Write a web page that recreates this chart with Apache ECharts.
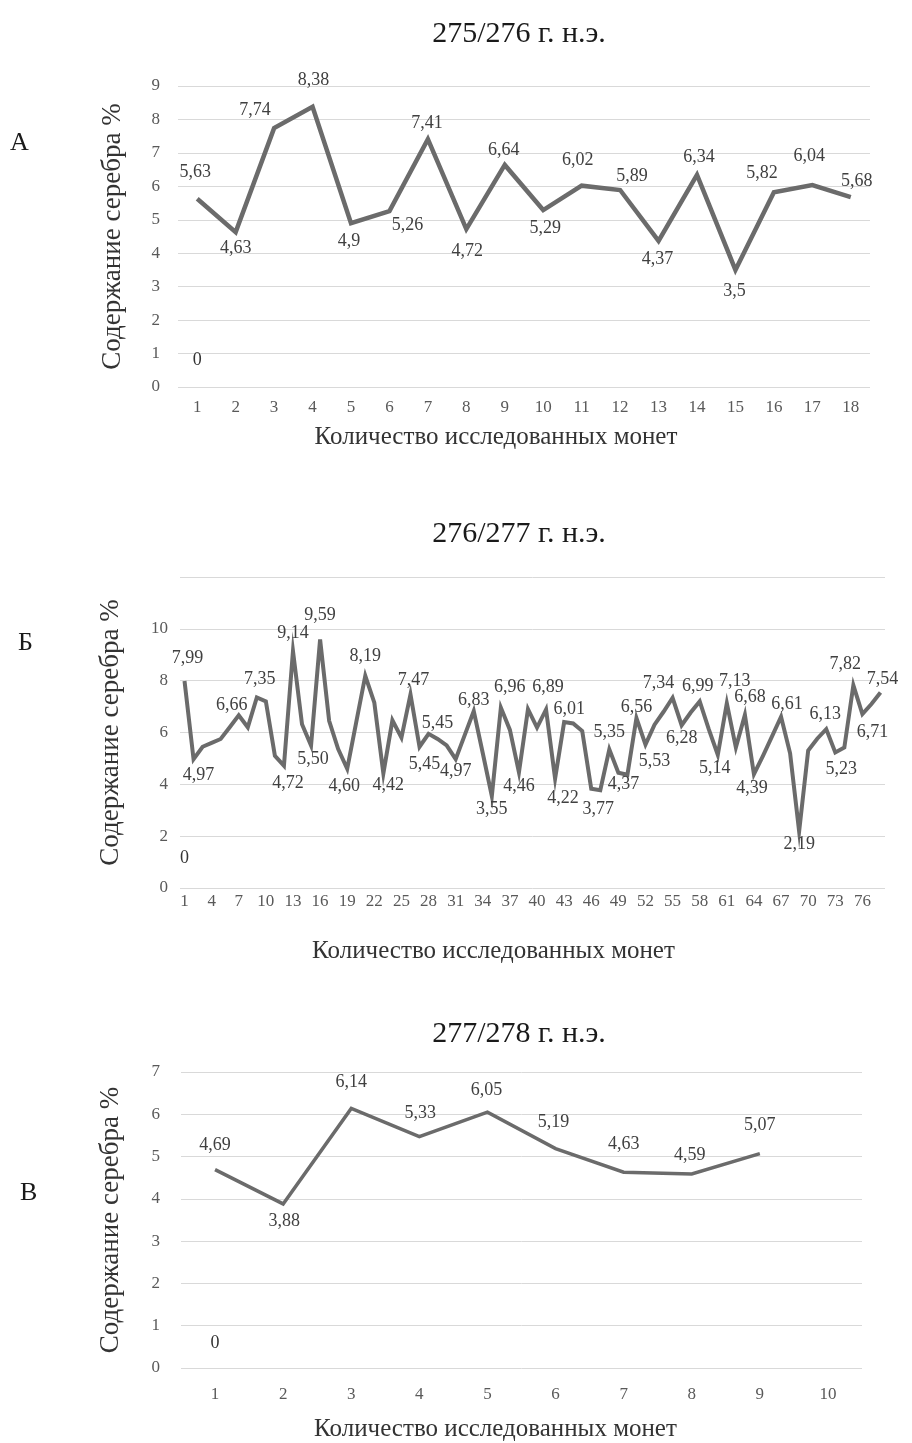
<!DOCTYPE html>
<html><head><meta charset="utf-8">
<script src="https://cdn.jsdelivr.net/npm/echarts@6/dist/echarts.min.js"></script>
<style>html,body{margin:0;padding:0;background:#fff}#c{width:912px;height:1443px}</style>
</head><body><div id="c"></div>
<script>
const FONT = '"Liberation Serif","Times New Roman",serif';

// ---- texts ----
const chartTitles = ['275/276 г. н.э.', '276/277 г. н.э.', '277/278 г. н.э.'];
const panelLetters = ['А', 'Б', 'В'];
const yTitle = 'Содержание серебра %';
const xTitle = 'Количество исследованных монет';

// ---- chart A ----
const categoriesA = ['1','2','3','4','5','6','7','8','9','10','11','12','13','14','15','16','17','18'];
const valuesA = [5.63, 4.63, 7.74, 8.38, 4.9, 5.26, 7.41, 4.72, 6.64, 5.29, 6.02, 5.89, 4.37, 6.34, 3.5, 5.82, 6.04, 5.68];
const labelsA = ['5,63','4,63','7,74','8,38','4,9','5,26','7,41','4,72','6,64','5,29','6,02','5,89','4,37','6,34','3,5','5,82','6,04','5,68'];
const yMaxA = 9, yStepA = 1;

// ---- chart B ----
const categoriesB = ['1','2','3','4','5','6','7','8','9','10','11','12','13','14','15','16','17','18','19','20',
 '21','22','23','24','25','26','27','28','29','30','31','32','33','34','35','36','37','38','39','40',
 '41','42','43','44','45','46','47','48','49','50','51','52','53','54','55','56','57','58','59','60',
 '61','62','63','64','65','66','67','68','69','70','71','72','73','74','75','76','77','78'];
const valuesB = [7.99, 4.97, 5.45, 5.6, 5.75, 6.2, 6.66, 6.2, 7.35, 7.2,
 5.1, 4.72, 9.14, 6.32, 5.5, 9.59, 6.45, 5.36, 4.6, 6.4,
 8.19, 7.15, 4.42, 6.47, 5.8, 7.47, 5.45, 5.95, 5.75, 5.5,
 4.97, 5.9, 6.83, 5.2, 3.55, 6.96, 6.1, 4.46, 6.9, 6.19,
 6.89, 4.22, 6.4, 6.35, 6.06, 3.83, 3.77, 5.35, 4.45, 4.37,
 6.56, 5.53, 6.3, 6.8, 7.34, 6.28, 6.77, 7.2, 6.13, 5.14,
 7.13, 5.42, 6.68, 4.39, 5.1, 5.85, 6.61, 5.2, 2.19, 5.3,
 5.76, 6.13, 5.23, 5.42, 7.82, 6.71, 7.1, 7.54];
const labelsB = ['7,99','4,97','','','','','6,66','','7,35','',
 '','4,72','9,14','','5,50','9,59','','','4,60','',
 '8,19','','4,42','','','7,47','5,45','','5,45','',
 '4,97','','6,83','','3,55','6,96','','4,46','','',
 '6,89','4,22','','6,01','','','3,77','5,35','','4,37',
 '6,56','5,53','','','7,34','6,28','','6,99','','5,14',
 '7,13','','6,68','4,39','','','6,61','','2,19','',
 '','6,13','5,23','','7,82','6,71','','7,54'];
const yMaxB = 12, yStepB = 2;

// ---- chart C ----
const categoriesC = ['1','2','3','4','5','6','7','8','9','10'];
const valuesC = [4.69, 3.88, 6.14, 5.47, 6.05, 5.19, 4.63, 4.59, 5.07];
const labelsC = ['4,69','3,88','6,14','5,33','6,05','5,19','4,63','4,59','5,07'];
const yMaxC = 7, yStepC = 1;

// zero-point label shown in each panel
const zeroValue = [0];
const zeroLabel = '0';

// ---- label placement (style, not data) ----
const placeA = [['top',-2,-12],['bottom',0,2],['top',-19,-4],['top',1,-12],['bottom',-2,4],['bottom',18,0],
 ['top',-1,-2],['bottom',1,8],['top',-1,-1],['bottom',2,4],['top',-4,-11],['top',12,0],['bottom',-1,4],
 ['top',2,-4],['bottom',-1,7],['top',-12,-5],['top',-3,-15],['top',6,-2]];
const placeB = {1:['top',3,-9],2:['bottom',5,2],7:['top',-7,4],9:['top',3,-4],12:['bottom',4,4],13:['top',0,-4],
 15:['bottom',2,0],16:['top',0,-10],19:['bottom',-3,3],21:['top',0,-5],23:['bottom',5,-2],26:['top',3,0],
 27:['bottom',5,4],29:['top',0,-2],31:['bottom',0,-2],33:['top',0,3],35:['bottom',0,-1],36:['top',9,-6],
 38:['bottom',0,0],41:['top',2,-8],42:['bottom',8,6],44:['top',-4,0],47:['bottom',-2,5],48:['top',0,-3],
 50:['bottom',-4,-4],51:['top',0,3],52:['bottom',9,3],55:['top',-14,-1],56:['bottom',0,-1],58:['top',-2,-1],
 60:['bottom',-3,-1],61:['top',8,-8],63:['top',5,-4],64:['bottom',-2,0],67:['top',6,2],69:['bottom',0,-1],
 72:['top',-1,-1],73:['bottom',6,3],75:['top',-8,-7],76:['bottom',10,4],78:['top',2,1]};
const placeC = [['top',0,-10],['bottom',1,3],['top',0,-12],['top',1,-9],['top',-1,-8],['top',-2,-12],
 ['top',0,-14],['top',-2,-5],['top',0,-14]];

const LINE = '#6b6b6b', GRIDC = '#d9d9d9', TICK = '#595959', LBL = '#404040';

function pts(values, labels, placeFn) {
  return values.map((v, i) => {
    const t = labels[i];
    const p = placeFn(i);
    if (!t || !p) return { value: v, label: { show: false } };
    return { value: v, label: { show: true, position: p[0], offset: [p[1], p[2]], formatter: t } };
  });
}

const grids = [
  { left: 178, top: 86, width: 692, height: 301 },
  { left: 180, top: 577, width: 705, height: 311 },
  { left: 181, top: 1072, width: 681, height: 298 }
];
const cats = [categoriesA, categoriesB, categoriesC];
const xLabelMargin = [12, 5, 18];
const xLabelInterval = [0, 2, 0];
const xNameGap = [38, 51, 49];
const xNamePad = [56, 78, 52];
const yMax = [yMaxA, yMaxB, yMaxC], yStep = [yStepA, yStepB, yStepC];
const yLabelMargin = [18, 12, 21];
const yNameGap = [52, 56, 57];
const zeroDy = [-13, -16, -11];
const lineW = [4.5, 4, 3.5];

const xAxis = cats.map((c, k) => ({
  type: 'category', gridIndex: k, data: c, boundaryGap: true,
  axisLine: { show: false }, axisTick: { show: false },
  axisLabel: { interval: xLabelInterval[k], margin: xLabelMargin[k], color: TICK, fontFamily: FONT, fontSize: 17 },
  name: xTitle, nameLocation: 'middle', nameGap: xNameGap[k],
  nameTextStyle: { fontFamily: FONT, fontSize: 25, color: '#333', padding: [0, xNamePad[k], 0, 0] }
}));
const yAxis = yMax.map((m, k) => ({
  type: 'value', gridIndex: k, min: 0, max: m, interval: yStep[k],
  axisLine: { show: false }, axisTick: { show: false },
  splitLine: { lineStyle: { color: GRIDC, width: 1 } },
  axisLabel: { margin: yLabelMargin[k], color: TICK, fontFamily: FONT, fontSize: 17,
    formatter: v => (k === 1 && v === yMaxB) ? '' : String(v) },
  name: yTitle, nameLocation: 'middle', nameRotate: 90, nameGap: yNameGap[k],
  nameTextStyle: { fontFamily: FONT, fontSize: 27, color: '#333' }
}));

const labelStyle = { color: LBL, fontFamily: FONT, fontSize: 18, distance: 5 };
const series = [];
const dataSets = [
  pts(valuesA, labelsA, i => placeA[i]),
  pts(valuesB, labelsB, i => placeB[i + 1]),
  pts(valuesC, labelsC, i => placeC[i])
];
dataSets.forEach((d, k) => {
  series.push({
    type: 'line', xAxisIndex: k, yAxisIndex: k, data: d,
    symbol: 'circle', symbolSize: 0, showSymbol: true, silent: true,
    lineStyle: { color: LINE, width: lineW[k], join: 'miter' },
    itemStyle: { color: LINE },
    label: Object.assign({}, labelStyle), z: 3, animation: false
  });
  series.push({
    type: 'line', xAxisIndex: k, yAxisIndex: k, data: zeroValue,
    symbol: 'circle', symbolSize: 0, showSymbol: true, silent: true,
    lineStyle: { width: 0 }, itemStyle: { color: LINE },
    label: Object.assign({}, labelStyle, { show: true, position: 'top', offset: [0, zeroDy[k]], formatter: zeroLabel, color: '#333' }),
    animation: false
  });
});

const titleTops = [14, 514, 1014];
const title = chartTitles.map((t, k) => ({
  text: t, left: 514, top: titleTops[k], textAlign: 'center',
  textStyle: { fontFamily: FONT, fontSize: 30, fontWeight: 'normal', color: '#1a1a1a' }
}));
const letterPos = [[10, 130], [18, 630], [20, 1180]];
const graphic = panelLetters.map((t, k) => ({
  type: 'text', left: letterPos[k][0], top: letterPos[k][1],
  style: { text: t, font: '26px ' + FONT, fill: '#1a1a1a' }
}));

const chart = echarts.init(document.getElementById('c'), null, { renderer: 'canvas' });
chart.setOption({ animation: false, backgroundColor: '#fff', title, graphic, grid: grids, xAxis, yAxis, series });
</script></body></html>
